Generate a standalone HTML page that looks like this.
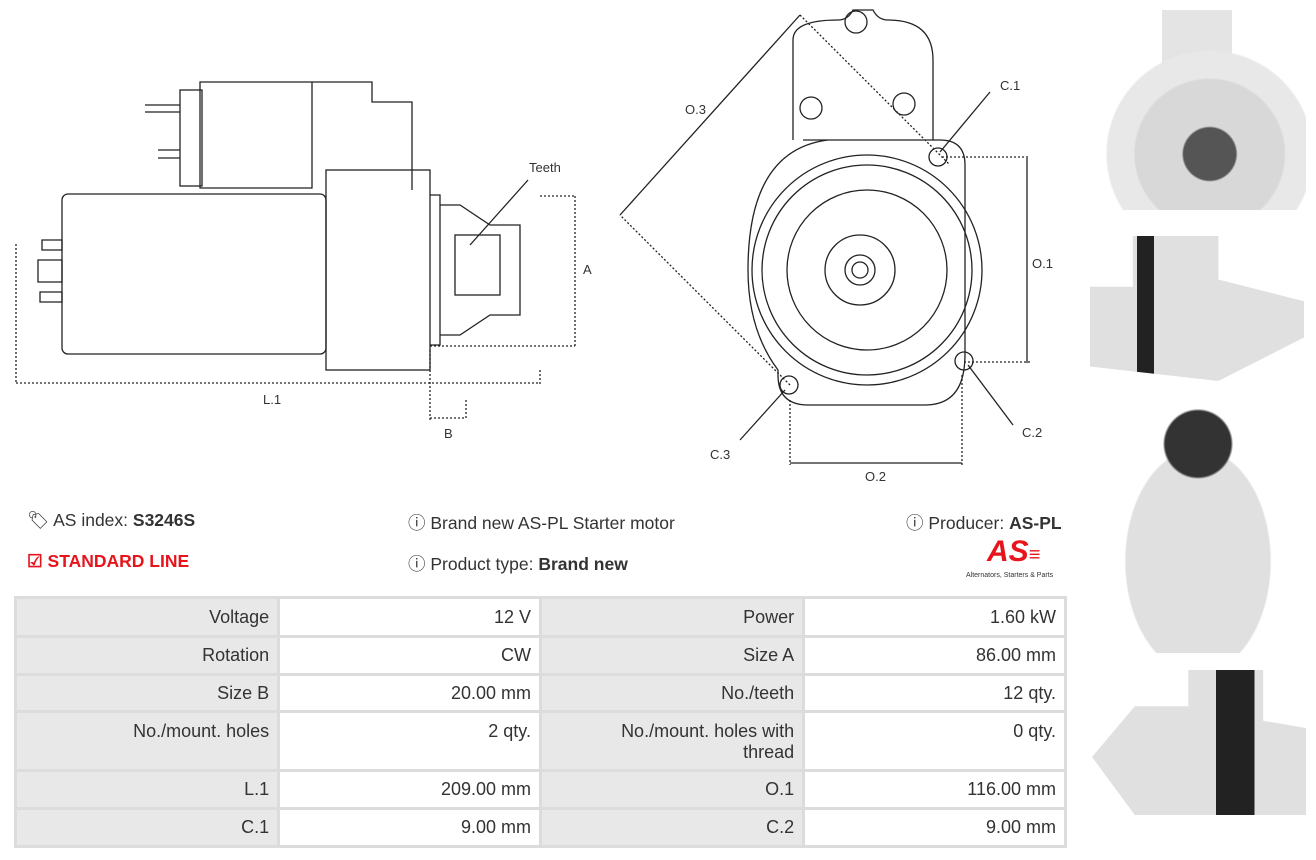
<!DOCTYPE html>
<html><head><meta charset="utf-8"><style>
body{margin:0;width:1316px;height:860px;background:#fff;font-family:"Liberation Sans",sans-serif;position:relative;overflow:hidden;color:#333}
.t{position:absolute;font-size:17px;color:#333;white-space:nowrap}
.i{font-size:17.5px}
table{position:absolute;left:14px;top:596px;width:1053px;border-collapse:collapse;font-size:18px}
td{border:3px solid #dcdcdc;text-align:right;padding:0 8px;color:#333}
td.l{background:#e8e8e8;width:246px}
td.v{background:#fff;width:245px}
</style></head><body>
<svg width="1316" height="500" style="position:absolute;left:0;top:0" fill="none" stroke="#222" stroke-width="1.3">
<rect x="62" y="194" width="264" height="160" rx="6"/>
<rect x="326" y="170" width="104" height="200"/>
<path d="M200 82h112v106H200z M312 82h60v20h40v88"/>
<rect x="180" y="90" width="22" height="96"/>
<path d="M145 105h35 M145 112h35 M158 150h22 M158 158h22"/>
<path d="M430 195h10v150h-10 M440 205h20l30 20h30v90h-30l-30 20h-20"/>
<rect x="455" y="235" width="45" height="60"/>
<path d="M42 240h20v10H42z M38 260h24v22H38z M40 292h22v10H40z"/>
<path d="M16 244v140 M16 383h524 M540 370v16 M430 350v70 M466 400v20 M430 418h36 M540 196h35 M575 196v150 M430 346h145" stroke-dasharray="2 2"/>
<path d="M470 245L528 180"/>
<path d="M793 140V40q0-20 45-20q10 0 15-10h20q5 10 15 10q45 0 45 40v80h-130 M830 140h110q25 0 25 25v190q0 50-40 50H808q-30 0-30-30V370q-30-40-30-100q0-120 80-130z"/>
<circle cx="867" cy="270" r="115"/><circle cx="867" cy="270" r="105"/><circle cx="867" cy="270" r="80"/>
<circle cx="860" cy="270" r="35"/><circle cx="860" cy="270" r="15"/><circle cx="860" cy="270" r="8"/>
<circle cx="856" cy="22" r="11"/><circle cx="811" cy="108" r="11"/><circle cx="904" cy="104" r="11"/>
<circle cx="938" cy="157" r="9"/><circle cx="964" cy="361" r="9"/><circle cx="789" cy="385" r="9"/>
<path d="M790 385l-170-170 M800 15l150 150 M942 157h88 M964 362h66 M790 400v65 M962 375v90" stroke-dasharray="2 2"/>
<path d="M620 215l180-200 M1027 158v205 M790 463h172"/>
<path d="M940 152l50-60 M968 365l45 60 M785 390l-45 50"/>
</svg>
<div class="t" style="left:529px;top:160px;font-size:13px">Teeth</div>
<div class="t" style="left:583px;top:262px;font-size:13px">A</div>
<div class="t" style="left:263px;top:392px;font-size:13px">L.1</div>
<div class="t" style="left:444px;top:426px;font-size:13px">B</div>
<div class="t" style="left:685px;top:102px;font-size:13px">O.3</div>
<div class="t" style="left:1000px;top:78px;font-size:13px">C.1</div>
<div class="t" style="left:1032px;top:256px;font-size:13px">O.1</div>
<div class="t" style="left:1022px;top:425px;font-size:13px">C.2</div>
<div class="t" style="left:710px;top:447px;font-size:13px">C.3</div>
<div class="t" style="left:865px;top:469px;font-size:13px">O.2</div>
<div style="position:absolute;left:1092px;top:10px;width:214px;height:200px;background:radial-gradient(circle at 55% 72%,#555 0 14%,#d8d8d8 15% 40%,#e8e8e8 41% 55%,transparent 56%),linear-gradient(#e4e4e4,#e4e4e4) 70px 0/70px 80px no-repeat"></div>
<div style="position:absolute;left:1090px;top:236px;width:214px;height:145px;background:linear-gradient(90deg,#e0e0e0 0 22%,#222 22% 30%,#e0e0e0 30%);clip-path:polygon(0 35%,20% 35%,20% 0,60% 0,60% 30%,100% 45%,100% 70%,60% 100%,0 90%)"></div>
<div style="position:absolute;left:1092px;top:398px;width:212px;height:255px;background:radial-gradient(circle at 50% 18%,#333 0 14%,transparent 15%),radial-gradient(ellipse at 50% 64%,#e0e0e0 0 48%,transparent 49%)"></div>
<div style="position:absolute;left:1092px;top:670px;width:214px;height:145px;background:linear-gradient(90deg,#e0e0e0 0 58%,#222 58% 76%,#e0e0e0 76%);clip-path:polygon(0 60%,20% 25%,45% 25%,45% 0,80% 0,80% 35%,100% 40%,100% 100%,20% 100%)"></div>
<div class="t i" style="left:27px;top:510px">🏷 AS index: <b>S3246S</b></div>
<div class="t i" style="left:27px;top:551px;color:#e8141c;font-weight:bold">☑ STANDARD LINE</div>
<div class="t i" style="left:408px;top:510px">ⓘ Brand new AS-PL Starter motor</div>
<div class="t i" style="left:408px;top:551px">ⓘ Product type: <b>Brand new</b></div>
<div class="t i" style="left:906px;top:510px">ⓘ Producer: <b>AS-PL</b></div>
<div class="t" style="left:987px;top:535px;font-size:30px;font-weight:bold;font-style:italic;color:#e8141c">AS<span style="font-size:20px">≡</span></div>
<div class="t" style="left:966px;top:572px;font-size:7px">Alternators, Starters &amp; Parts</div>
<table>
<tr style="height:39px"><td class="l">Voltage</td><td class="v">12 V</td><td class="l">Power</td><td class="v">1.60 kW</td></tr>
<tr style="height:38px"><td class="l">Rotation</td><td class="v">CW</td><td class="l">Size A</td><td class="v">86.00 mm</td></tr>
<tr style="height:37px"><td class="l">Size B</td><td class="v">20.00 mm</td><td class="l">No./teeth</td><td class="v">12 qty.</td></tr>
<tr style="height:59px;vertical-align:top"><td class="l" style="padding-top:8px">No./mount. holes</td><td class="v" style="padding-top:8px">2 qty.</td><td class="l" style="padding-top:8px">No./mount. holes with<br>thread</td><td class="v" style="padding-top:8px">0 qty.</td></tr>
<tr style="height:38px"><td class="l">L.1</td><td class="v">209.00 mm</td><td class="l">O.1</td><td class="v">116.00 mm</td></tr>
<tr style="height:38px"><td class="l">C.1</td><td class="v">9.00 mm</td><td class="l">C.2</td><td class="v">9.00 mm</td></tr>
</table>
</body></html>
